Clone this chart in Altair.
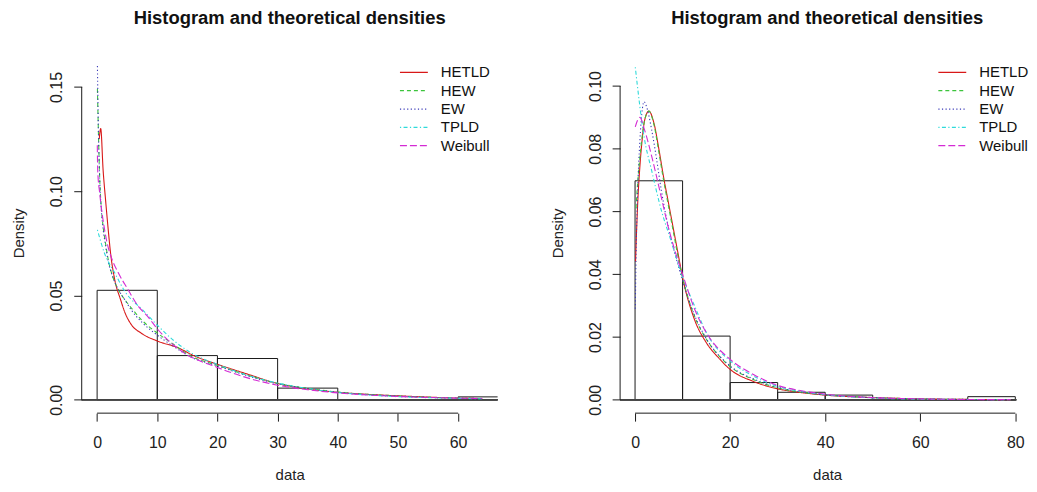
import altair as alt
import pandas as pd

FONT = "Liberation Sans"
TITLE = "Histogram and theoretical densities"
MODELS = ["HETLD", "HEW", "EW", "TPLD", "Weibull"]
COLORS = ["#d81818", "#3cc43c", "#3a3ab8", "#2fdada", "#d42ad4"]
DASHES = [[1, 0], [4, 3], [1.2, 2.4], [1.2, 2.4, 4, 2.4], [7, 3]]

# ---------------- left panel ----------------
L_BIN_START = [0, 10, 20, 30, 40, 50, 60]
L_BIN_END = [10, 20, 30, 40, 50, 60, 70]
L_DENSITY = [0.0525, 0.0212, 0.0198, 0.0056, 0.0, 0.0, 0.0014]
L_XTICKS = [0, 10, 20, 30, 40, 50, 60]
L_YTICKS = [0.0, 0.05, 0.10, 0.15]

L_HETLD_X = [0.35, 0.6, 1.0, 1.4, 1.8, 2.25, 2.9, 3.9, 4.6, 5.7, 7.3, 10, 13.4, 16.2, 20, 25, 30, 35, 40, 45, 50, 55, 60, 64]
L_HETLD_Y = [0.125, 0.130, 0.110, 0.096, 0.083, 0.070, 0.058, 0.048, 0.042, 0.036, 0.032, 0.0282, 0.025, 0.021, 0.017, 0.0123, 0.0078, 0.0052, 0.0036, 0.0026, 0.0019, 0.0013, 0.0008, 0.0006]
L_HEW_X = [0.05, 0.2, 0.45, 0.7, 1.0, 1.4, 1.8, 2.6, 3.5, 4.6, 5.7, 7.5, 10, 12.5, 15.6, 20, 25, 30, 35, 40, 45, 50, 55, 60, 64]
L_HEW_Y = [0.149, 0.130, 0.105, 0.092, 0.083, 0.075, 0.068, 0.059, 0.053, 0.048, 0.044, 0.038, 0.032, 0.027, 0.021, 0.0165, 0.0118, 0.0079, 0.0055, 0.0037, 0.0026, 0.0018, 0.0012, 0.0008, 0.0006]
L_EW_X = [0.05, 0.2, 0.45, 0.7, 1.0, 1.4, 1.8, 2.6, 3.5, 4.6, 5.7, 7.5, 10, 12.5, 15.6, 20, 25, 30, 35, 40, 45, 50, 55, 60, 64]
L_EW_Y = [0.160, 0.132, 0.104, 0.091, 0.082, 0.074, 0.067, 0.059, 0.053, 0.048, 0.043, 0.037, 0.031, 0.026, 0.0205, 0.0163, 0.0115, 0.0077, 0.0054, 0.0036, 0.0025, 0.0018, 0.0012, 0.0008, 0.0006]
L_TPLD_X = [0.05, 1.26, 2.9, 4.6, 7.6, 10.1, 12.5, 15.6, 20, 25, 30, 35, 40, 45, 50, 55, 60, 64]
L_TPLD_Y = [0.0815, 0.070, 0.061, 0.052, 0.043, 0.0355, 0.029, 0.0225, 0.017, 0.0118, 0.008, 0.0054, 0.0035, 0.0023, 0.0015, 0.0010, 0.0007, 0.0005]
L_WEIB_X = [0.03, 0.1, 0.43, 1.0, 1.6, 2.4, 3.5, 5.1, 6.8, 8.4, 10.1, 14, 20, 25, 30, 35, 40, 45, 50, 55, 60, 64]
L_WEIB_Y = [0.122, 0.110, 0.099, 0.086, 0.076, 0.068, 0.061, 0.053, 0.045, 0.040, 0.0337, 0.0234, 0.0155, 0.0105, 0.0070, 0.0048, 0.0033, 0.0023, 0.0016, 0.0011, 0.0008, 0.0006]

# ---------------- right panel ----------------
R_BIN_START = [0, 10, 20, 30, 40, 50, 60, 70]
R_BIN_END = [10, 20, 30, 40, 50, 60, 70, 80]
R_DENSITY = [0.0698, 0.0203, 0.0055, 0.0024, 0.0015, 0.0, 0.0, 0.0010]
R_XTICKS = [0, 20, 40, 60, 80]
R_YTICKS = [0.0, 0.02, 0.04, 0.06, 0.08, 0.10]

R_HETLD_X = [0.1, 0.3, 0.6, 1.0, 1.5, 2.0, 2.9, 4.0, 5.0, 6.0, 7.0, 8.0, 9.0, 10, 12.5, 15, 17.5, 20, 25, 30, 35, 40, 45, 50, 60, 70, 79]
R_HETLD_Y = [0.044, 0.053, 0.064, 0.074, 0.083, 0.089, 0.092, 0.088, 0.080, 0.071, 0.063, 0.055, 0.047, 0.039, 0.0256, 0.0182, 0.0135, 0.0097, 0.0058, 0.0035, 0.0023, 0.0015, 0.0010, 0.0007, 0.0003, 0.00012, 0.00005]
R_HEW_X = [0.2, 0.4, 0.7, 1.0, 1.5, 2.0, 2.9, 4.0, 5.0, 6.0, 7.0, 8.0, 9.0, 10, 12.5, 15, 17.5, 20, 25, 30, 35, 40, 45, 50, 60, 70, 79]
R_HEW_Y = [0.061, 0.066, 0.072, 0.077, 0.084, 0.089, 0.092, 0.0875, 0.079, 0.070, 0.062, 0.054, 0.046, 0.039, 0.0267, 0.0193, 0.0143, 0.0106, 0.0064, 0.0038, 0.0024, 0.0016, 0.0011, 0.0007, 0.0003, 0.00012, 0.00005]
R_EW_X = [0.05, 0.2, 0.54, 1.0, 1.56, 1.9, 2.5, 3.5, 4.5, 5.5, 7.0, 8.5, 10, 12.5, 15, 20, 25, 30, 35, 40, 50, 60, 70, 79]
R_EW_Y = [0.029, 0.045, 0.066, 0.082, 0.093, 0.095, 0.093, 0.086, 0.077, 0.067, 0.055, 0.046, 0.038, 0.027, 0.0195, 0.0108, 0.0066, 0.0040, 0.0025, 0.0016, 0.0007, 0.0003, 0.00012, 0.00005]
R_TPLD_X = [0.05, 1.9, 3.5, 5.6, 7.5, 9.7, 12.5, 15, 20, 25, 30, 35, 40, 50, 60, 70, 79]
R_TPLD_Y = [0.106, 0.0838, 0.073, 0.060, 0.051, 0.0404, 0.030, 0.0214, 0.0124, 0.0075, 0.0043, 0.0027, 0.0016, 0.0006, 0.0002, 0.0001, 0.00004]
R_WEIB_X = [0.05, 0.5, 1.0, 2.0, 3.6, 5.0, 7.0, 8.5, 10, 12.5, 15, 20, 25, 30, 35, 40, 50, 60, 70, 79]
R_WEIB_Y = [0.087, 0.089, 0.090, 0.086, 0.077, 0.068, 0.055, 0.047, 0.040, 0.029, 0.0214, 0.0129, 0.0080, 0.0046, 0.0029, 0.0018, 0.0007, 0.0003, 0.0001, 0.00005]

INK = "#1a1a1a"


def panel(bs, be, dens, curves, xdom, ydom, w, h, xticks, yticks, yfmt, center_shift):
    hist = pd.DataFrame({"start": bs, "end": be, "density": dens})
    rows = []
    for m, (xs, ys) in zip(MODELS, curves):
        for xv, yv in zip(xs, ys):
            rows.append({"model": m, "x": xv, "d": yv})
    lines = pd.DataFrame(rows)

    xs = alt.Scale(domain=xdom, nice=False, zero=False)
    ys = alt.Scale(domain=ydom, nice=False, zero=False)
    xax = alt.Axis(values=xticks, format="d", domain=False, grid=False, tickSize=8,
                   labelPadding=13, titlePadding=18, labelFlush=False, labelOverlap=False,
                   titleX=w / 2 + center_shift)
    yax = alt.Axis(values=yticks, format=yfmt, domain=False, grid=False, tickSize=8,
                   labelPadding=9, titlePadding=22, labelAngle=270, labelAlign="center",
                   labelBaseline="bottom", labelOverlap=False)

    def X(f):
        return alt.X(f, scale=xs, axis=xax, title="data")

    def Y(f):
        return alt.Y(f, scale=ys, axis=yax, title="Density")

    bars = alt.Chart(hist).mark_rect(clip=True, fill="white", fillOpacity=0, stroke=INK,
                                     strokeWidth=1).encode(
        x=X("start:Q"), x2="end:Q", y=Y("density:Q"), y2=alt.datum(0))

    base = alt.Chart(hist).mark_rule(color="#444", strokeWidth=1).encode(
        x=alt.value(0), x2=alt.value(w), y=alt.datum(0))

    leg = alt.Legend(title=None, orient="none", legendX=325.5, legendY=11.7,
                     symbolType="M-2,0H2", symbolSize=196, symbolStrokeWidth=1.2,
                     labelFont=FONT, labelFontSize=15, labelColor="#111", labelOffset=19,
                     rowPadding=2.4, padding=0)
    curves_layer = alt.Chart(lines).mark_line(clip=True, strokeWidth=1.1, interpolate="monotone").encode(
        x=X("x:Q"), y=Y("d:Q"),
        color=alt.Color("model:N", scale=alt.Scale(domain=MODELS, range=COLORS), legend=leg),
        strokeDash=alt.StrokeDash("model:N", scale=alt.Scale(domain=MODELS, range=DASHES), legend=leg),
    )

    yl = pd.DataFrame({"lo": [yticks[0]], "hi": [yticks[-1]]})
    yline = alt.Chart(yl).mark_rule(color=INK, strokeWidth=1).encode(
        x=alt.value(0), y=Y("lo:Q"), y2="hi:Q")
    xl = pd.DataFrame({"lo": [xticks[0]], "hi": [xticks[-1]]})
    xline = alt.Chart(xl).mark_rule(color=INK, strokeWidth=1).encode(
        y=alt.value(h), x=X("lo:Q"), x2="hi:Q")

    return alt.layer(bars, base, curves_layer, yline, xline).properties(
        width=w, height=h,
        title=alt.TitleParams(TITLE, font=FONT, fontSize=18.5, fontWeight="bold", anchor="middle",
                              offset=25, color="#111", dx=center_shift),
    )


H = 361.8
left = panel(L_BIN_START, L_BIN_END, L_DENSITY,
             [(L_HETLD_X, L_HETLD_Y), (L_HEW_X, L_HEW_Y), (L_EW_X, L_EW_Y), (L_TPLD_X, L_TPLD_Y), (L_WEIB_X, L_WEIB_Y)],
             [-2.56, 66.56], [-0.0064, 0.1664], 417.5, H, L_XTICKS, L_YTICKS, ".2f", 0)
right = panel(R_BIN_START, R_BIN_END, R_DENSITY,
              [(R_HETLD_X, R_HETLD_Y), (R_HEW_X, R_HEW_Y), (R_EW_X, R_EW_Y), (R_TPLD_X, R_TPLD_Y), (R_WEIB_X, R_WEIB_Y)],
              [-3.146, 80.2], [-0.00425, 0.1106], 397.7, H, R_XTICKS, R_YTICKS, ".2f", 9)

chart = alt.hconcat(left, right, spacing=52.5).resolve_scale(
    color="independent", strokeDash="independent"
).resolve_legend(color="independent", strokeDash="independent").properties(
    padding={"left": 4, "top": 0, "right": 0, "bottom": 0}
).configure_view(stroke=None).configure_axis(
    labelFont=FONT, titleFont=FONT, labelFontSize=16, titleFontSize=15, labelColor="#222",
    titleColor="#222", tickColor=INK, tickWidth=1, titleFontWeight="normal"
)

chart.save("out.html", embed_options={"renderer": "svg", "actions": False})
